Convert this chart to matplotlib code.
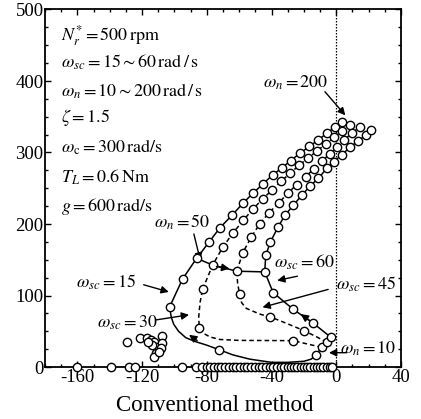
import matplotlib
matplotlib.use("Agg")
import matplotlib.pyplot as plt
import numpy as np

plt.rcParams['font.family'] = ['Liberation Serif', 'DejaVu Serif']
plt.rcParams['mathtext.fontset'] = 'stix'
plt.rcParams['axes.unicode_minus'] = False

# ---- data: pole locations for omega_n = 10, 20, ..., 200 ----
wn = [10, 20, 30, 40, 50, 60, 70, 80, 90, 100, 110, 120, 130, 140, 150, 160, 170, 180, 190, 200]

sc15_x = [-12.5, -72.2, -103, -95, -86.3, -78.5, -71.8, -64.5, -57.7, -51.5, -45.3, -39.4, -33.8, -28.2, -22.4, -16.6, -11, -5.8, -0.6, 3.5]
sc15_y = [17, 24, 84, 123, 152, 175, 195, 212, 229, 243, 256, 268.5, 278, 288.7, 299, 308.6, 317.8, 327, 336, 343]

sc30_x = [-8.9, -26.7, -84.7, -82.6, -76.4, -70, -64, -57.5, -51.5, -45.5, -39.5, -34, -28.5, -23, -17.5, -12, -6.5, -1.5, 3.5, 8.7]
sc30_y = [27.5, 36.8, 54.5, 108.7, 142.6, 168, 187, 205, 221, 235, 248, 260, 271, 282, 292, 302, 312, 321, 330, 338.5]

sc45_x = [-5.8, -19.9, -40.7, -59.8, -61.5, -57.7, -52.5, -47.3, -41.5, -35.3, -30, -24.5, -19, -14, -9, -4, 0.5, 5, 9.8, 14.5]
sc45_y = [34.5, 50.8, 70, 102, 134, 160, 182, 200, 216, 230, 243, 255, 266, 277, 288, 298, 308, 318, 327, 336]

sc60_x = [-3.3, -14.1, -26.6, -39, -44.2, -43.6, -40.7, -35.9, -31.8, -26.6, -21.4, -16.2, -11, -5.8, -1.6, 3.5, 8.3, 13.3, 18.1, 21.6]
sc60_y = [41.5, 61, 80.7, 104, 133, 156, 175, 196, 212, 226, 240, 253, 264, 278, 287, 297, 307, 316, 324, 331.5]

# trajectory of the low-omega_n parts (curves between marked poles)
sc15_low_x = [-12.5, -15.5, -20, -30, -40, -53.5, -64, -72.2, -80, -87, -93, -97.5, -100.5, -102, -103]
sc15_low_y = [17, 11, 8, 6.5, 6.5, 11, 17, 24, 30.5, 35.5, 41, 50, 60, 70, 84]
sc30_low_x = [-8.9, -26.7, -40, -60, -72, -78, -82, -84.7, -85, -84.2, -82.6]
sc30_low_y = [27.5, 36.8, 37, 37.2, 38.5, 42, 47, 54.5, 70, 90, 108.7]
sc45_low_x = [-5.8, -12, -19.9, -30.7, -40.7, -47.3, -55.6, -58.5, -59.8, -61, -61.5]
sc45_low_y = [34.5, 42, 50.8, 61, 70, 74, 82, 90, 102, 118, 134]

# other (uncontrolled) poles
real_x = [-160, -139.5, -128, -124.5, -95.5, -86.7, -82.8, -80, -78, -75.5, -73, -71, -68.5, -66, -64, -62, -59.5,
          -57, -55, -52.5, -50, -48, -46, -43.5, -41, -39, -36.5, -34, -32, -30, -28, -26, -24, -22, -20, -18,
          -16, -14, -12, -10, -8, -6, -4, -2.7]
real_y = [0] * len(real_x)
clus_x = [-129.4, -121, -116.9, -114.8, -112.7, -107.5, -110.6, -111.6, -112.7, -107.5, -108.5, -113.7, -109.6, -116.5]
clus_y = [35.4, 40, 40, 37.8, 35.4, 43.4, 28.4, 19, 13.6, 33, 26, 30.8, 21.5, 35]

fig = plt.figure(figsize=(4.21, 4.19), dpi=100)
ax = fig.add_axes([45/421, 52/419, 356/421, 357.5/419])

lw = 1.1
ms = 6
mk = dict(marker='o', ms=ms, mfc='white', mec='black', mew=1.0, ls='none', zorder=5)

ax.axvline(0, color='black', ls=(0, (1.2, 1.2)), lw=0.9, zorder=1)

# lines
ax.plot(sc15_low_x, sc15_low_y, color='black', lw=lw, zorder=2)
ax.plot(sc15_x[2:], sc15_y[2:], color='black', lw=lw, zorder=2)
ax.plot(sc30_low_x, sc30_low_y, color='black', lw=lw, ls=(0, (3, 2)), zorder=2)
ax.plot(sc30_x[3:], sc30_y[3:], color='black', lw=lw, ls=(0, (3, 2)), zorder=2)
ax.plot(sc45_low_x, sc45_low_y, color='black', lw=lw, ls=(0, (3, 2)), zorder=2)
ax.plot(sc45_x[4:], sc45_y[4:], color='black', lw=lw, ls=(0, (3, 2)), zorder=2)
ax.plot(sc60_x, sc60_y, color='black', lw=lw, zorder=2)
# constant omega_n lines (omega_n = 10 and 50)
for i in (0, 4):
    ax.plot([sc15_x[i], sc30_x[i], sc45_x[i], sc60_x[i]],
            [sc15_y[i], sc30_y[i], sc45_y[i], sc60_y[i]], color='black', lw=lw, zorder=2)

# markers
for xs, ys in ((sc15_x, sc15_y), (sc30_x, sc30_y), (sc45_x, sc45_y), (sc60_x, sc60_y)):
    ax.plot(xs, ys, **mk)
ax.plot(real_x, real_y, clip_on=False, **mk)
ax.plot(clus_x, clus_y, **mk)

# in-line direction arrows
ap_in = dict(arrowstyle='-|>', color='black', lw=lw, mutation_scale=11, shrinkA=0, shrinkB=0)
ax.annotate('', xy=(-91, 45), xytext=(-86, 37), arrowprops=ap_in, zorder=6)
ax.annotate('', xy=(-22, 74), xytext=(-17, 66), arrowprops=ap_in, zorder=6)
ax.annotate('', xy=(-66, 137.5), xytext=(-74, 140.5), arrowprops=ap_in, zorder=6)

# text block
fs = 13
tx = -170
lines = [r'$N_r^{*} = 500\,\mathrm{rpm}$',
         r'$\omega_{sc} = 15 \sim 60\,\mathrm{rad\,/\,s}$',
         r'$\omega_{n} = 10 \sim 200\,\mathrm{rad\,/\,s}$',
         r'$\zeta = 1.5$',
         r'$\omega_{\mathrm{c}} = 300\,\mathrm{rad/s}$',
         r'$T_L = 0.6\,\mathrm{Nm}$',
         r'$g = 600\,\mathrm{rad/s}$']
ty = [464, 426, 386, 349, 307, 266, 224]
for s, y in zip(lines, ty):
    ax.text(tx, y, s, fontsize=fs, ha='left', va='center')

# labelled annotations
ap = dict(arrowstyle='-|>', color='black', lw=1.0, mutation_scale=11, shrinkA=0, shrinkB=0)
ax.text(-25, 398, r'$\omega_n = 200$', fontsize=fs, ha='center', va='center')
ax.annotate('', xy=(5.6, 352), xytext=(-7, 385), arrowprops=ap)
ax.text(-95, 203, r'$\omega_n = 50$', fontsize=fs, ha='center', va='center')
ax.annotate('', xy=(-84, 149), xytext=(-88, 186), arrowprops=ap)
ax.text(-142, 119, r'$\omega_{sc} = 15$', fontsize=fs, ha='center', va='center')
ax.annotate('', xy=(-103.5, 105), xytext=(-119, 115), arrowprops=ap)
ax.text(-129, 62, r'$\omega_{sc} = 30$', fontsize=fs, ha='center', va='center')
ax.annotate('', xy=(-91, 73), xytext=(-111, 66), arrowprops=ap)
ax.text(-20, 147, r'$\omega_{sc} = 60$', fontsize=fs, ha='center', va='center')
ax.annotate('', xy=(-36.5, 121), xytext=(-24, 127), arrowprops=ap)
ax.text(18.5, 115, r'$\omega_{sc} = 45$', fontsize=fs, ha='center', va='center')
ax.annotate('', xy=(-45.6, 83.5), xytext=(-5, 108.5), arrowprops=ap)
ax.text(20, 26, r'$\omega_n = 10$', fontsize=fs, ha='center', va='center')
ax.annotate('', xy=(-4.5, 20), xytext=(6.5, 20), arrowprops=ap)

ax.set_xlim(-180, 40)
ax.set_ylim(0, 500)
ax.set_xticks([-160, -120, -80, -40, 0, 40])
ax.set_xticks(np.arange(-180, 41, 10), minor=True)
ax.set_yticks([0, 100, 200, 300, 400, 500])
ax.set_yticks(np.arange(0, 501, 25), minor=True)
ax.tick_params(which='both', direction='in', top=True, right=True, labelsize=13.5, width=1.0)
ax.tick_params(which='major', length=4.5)
ax.tick_params(which='minor', length=2.5)
ax.tick_params(axis='x', pad=1.5)
ax.tick_params(axis='y', pad=1)
for sp in ax.spines.values():
    sp.set_linewidth(1.3)

fig.text(215/421, 1 - 405/419, 'Conventional method', fontsize=16.5, ha='center', va='center')

fig.savefig('out.png', dpi=100)
